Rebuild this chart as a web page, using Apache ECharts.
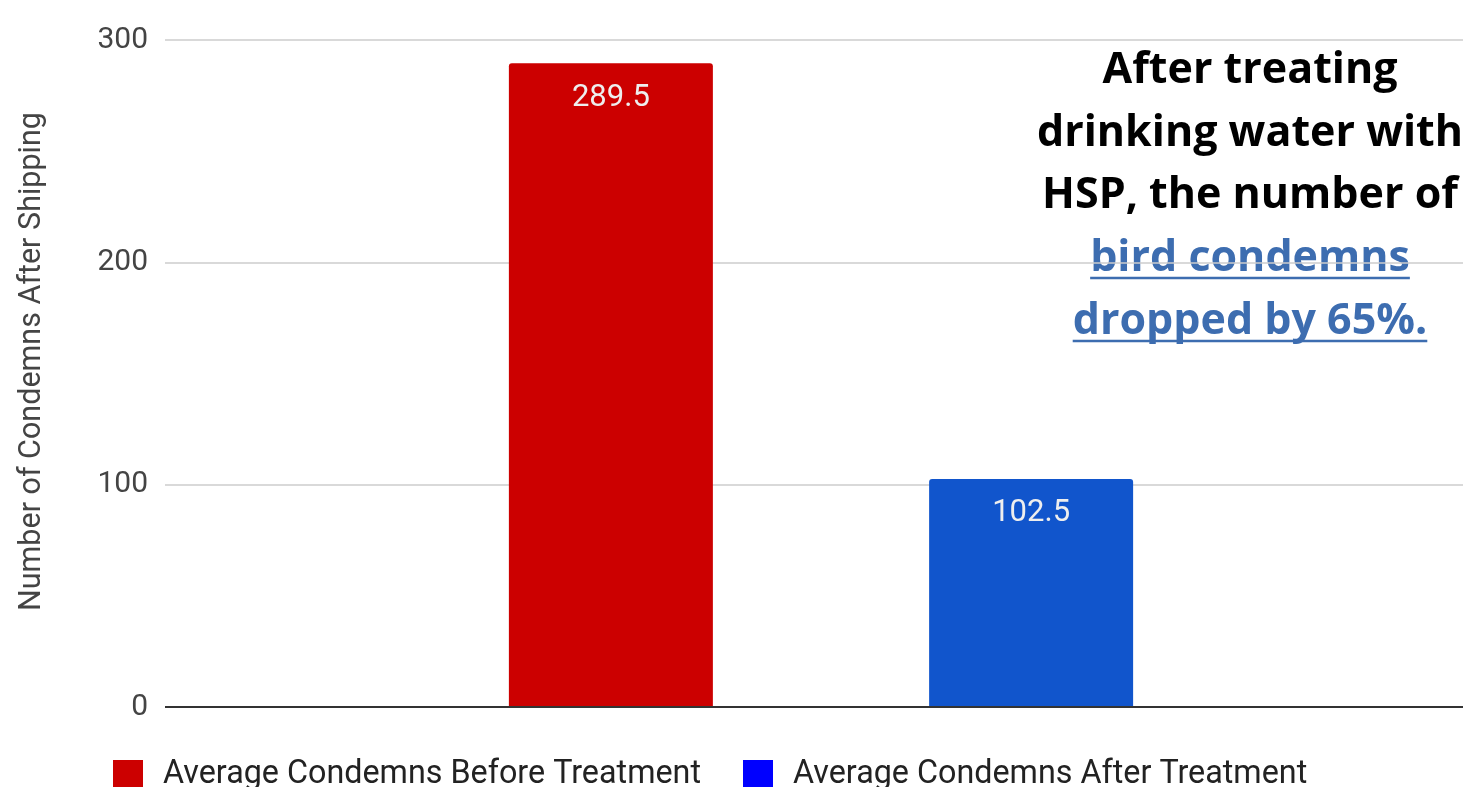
<!DOCTYPE html>
<html>
<head>
<meta charset="utf-8">
<script src="https://cdn.jsdelivr.net/npm/echarts@6/dist/echarts.min.js"></script>
<style>
html,body{margin:0;padding:0;background:#fff;}
#chart{width:1463px;height:787px;}
</style>
</head>
<body>
<div id="chart"></div>
<script>
const categories = [''];
const seriesNames = ['Average Condemns Before Treatment', 'Average Condemns After Treatment'];
const beforeValues = [289.5];
const afterValues = [102.5];
const yTicks = [0, 100, 200, 300];
const noteLines = ['After treating', 'drinking water with', 'HSP, the number of', 'bird condemns', 'dropped by 65%.'];

const chart = echarts.init(document.getElementById('chart'));

const noteFont = 'bold 43px "Open Sans"';
const mctx = document.createElement('canvas').getContext('2d');
mctx.font = noteFont;
const noteX = 1250;
const baselines = [83, 146, 208, 271, 334];
const graphics = [];
noteLines.forEach((t, i) => {
  const blue = i >= 3;
  graphics.push({
    type: 'text', x: noteX, y: baselines[i] - 34,
    style: { text: t, font: noteFont, fill: blue ? '#3d6db0' : '#000', align: 'center', verticalAlign: 'top' }
  });
  if (blue) {
    const w = mctx.measureText(t).width;
    graphics.push({
      type: 'line',
      shape: { x1: noteX - w / 2, y1: baselines[i] + 7, x2: noteX + w / 2, y2: baselines[i] + 7 },
      style: { stroke: '#3d6db0', lineWidth: 2.5 }
    });
  }
});

chart.setOption({
  animation: false,
  grid: { left: 165, top: 40, width: 1312, height: 667, containLabel: false, outerBoundsMode: 'none' },
  legend: {
    left: 113, top: 759, padding: 0,
    itemWidth: 30, itemHeight: 30, itemGap: 42,
    icon: 'rect',
    textStyle: { fontFamily: 'Roboto', fontSize: 32.3, color: '#222', padding: [0, 0, 0, 15] },
    data: [
      { name: seriesNames[0], itemStyle: { color: '#cc0000' } },
      { name: seriesNames[1], itemStyle: { color: '#0000ff' } }
    ]
  },
  xAxis: {
    type: 'category', data: categories,
    axisLine: { show: false }, axisTick: { show: false }, axisLabel: { show: false }
  },
  yAxis: {
    type: 'value', min: yTicks[0], max: yTicks[yTicks.length - 1], interval: 100,
    name: 'Number of Condemns After Shipping', nameLocation: 'middle', nameGap: 117,
    nameTextStyle: { fontFamily: 'Roboto', fontSize: 30.5, color: '#444', padding: [0, 0, 0, 24] },
    axisLine: { show: false }, axisTick: { show: false },
    axisLabel: { fontFamily: 'Roboto', fontSize: 30, color: '#444', margin: 17 },
    splitLine: { lineStyle: { color: '#cccccc', width: 1.5 } }
  },
  series: [
    {
      name: seriesNames[0], type: 'bar', data: beforeValues, barWidth: 204, barGap: '106%',
      itemStyle: { color: '#cc0000', borderRadius: [3, 3, 0, 0] },
      label: { show: true, position: 'insideTop', distance: 19, fontFamily: 'Roboto', fontSize: 31, color: '#eeeeee' }
    },
    {
      name: seriesNames[1], type: 'bar', data: afterValues, barWidth: 204,
      itemStyle: { color: '#1155cc', borderRadius: [3, 3, 0, 0] },
      label: { show: true, position: 'insideTop', distance: 19, fontFamily: 'Roboto', fontSize: 31, color: '#eeeeee' },
      markLine: {
        silent: true, symbol: 'none', label: { show: false },
        lineStyle: { color: '#333', width: 2, type: 'solid' },
        data: [{ yAxis: 0 }]
      }
    }
  ],
  graphic: graphics
});
</script>
</body>
</html>
